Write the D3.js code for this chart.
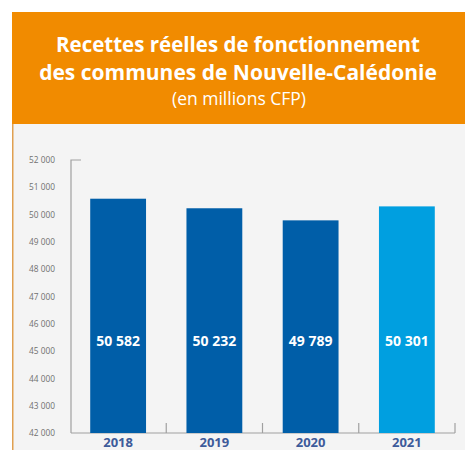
<!DOCTYPE html>
<html>
<head>
<meta charset="utf-8">
<script src="https://cdn.jsdelivr.net/npm/d3@7"></script>
<style>
  body { margin: 0; background: #fff; }
  svg { display: block; font-family: "Open Sans", "Noto Sans", sans-serif; }
</style>
</head>
<body>
<div id="chart"></div>
<script>
var years = ['2018', '2019', '2020', '2021'];
var values = [50582, 50232, 49789, 50301];
var labels = ['50 582', '50 232', '49 789', '50 301'];
var yTicks = [42000, 43000, 44000, 45000, 46000, 47000, 48000, 49000, 50000, 51000, 52000];
var colors = ['#005ea8', '#005ea8', '#005ea8', '#009fe0'];

var w = 465, h = 450;

var svg = d3.select('#chart').append('svg')
  .attr('width', w)
  .attr('height', h);

// panel + header
svg.append('rect').attr('x', 12).attr('y', 124).attr('width', w - 12).attr('height', h - 124).attr('fill', '#f4f4f4');
svg.append('rect').attr('x', 12).attr('y', 124).attr('width', 1.5).attr('height', h - 124).attr('fill', '#e0a050');
svg.append('rect').attr('x', 12).attr('y', 12).attr('width', w - 12).attr('height', 112).attr('fill', '#f18b00');

svg.append('text').attr('x', 238).attr('y', 52).attr('text-anchor', 'middle')
  .attr('fill', '#fff').attr('font-size', 20.5).attr('font-weight', 'bold')
  .text('Recettes réelles de fonctionnement');
svg.append('text').attr('x', 238).attr('y', 80).attr('text-anchor', 'middle')
  .attr('fill', '#fff').attr('font-size', 21).attr('font-weight', 'bold')
  .text('des communes de Nouvelle-Calédonie');
svg.append('text').attr('x', 239).attr('y', 105).attr('text-anchor', 'middle')
  .attr('fill', '#fff').attr('font-size', 17.5)
  .text('(en millions CFP)');

var x = d3.scaleBand().domain(years).range([70, 455]).padding(0);
var y = d3.scaleLinear().domain([42000, 52000]).range([433, 160]);
var barW = x.bandwidth() * 0.58;

// y axis
var yAxis = d3.axisLeft(y).tickValues(yTicks).tickSize(0).tickPadding(16)
  .tickFormat(function(d) { return d3.format(',')(d).replace(',', ' '); });
var gy = svg.append('g').attr('transform', 'translate(71,0)').call(yAxis);
gy.select('.domain').remove();
gy.selectAll('text').attr('fill', '#707070').attr('font-size', 8.3).attr('font-family', '"Open Sans", sans-serif');
svg.append('path').attr('d', 'M81,' + y(52000) + 'H71V' + y(42000))
  .attr('fill', 'none').attr('stroke', '#a0a0a0').attr('stroke-width', 1.2);

// x axis
svg.append('line').attr('x1', 71).attr('x2', 455).attr('y1', y(42000)).attr('y2', y(42000))
  .attr('stroke', '#a0a0a0').attr('stroke-width', 1.2);
svg.selectAll('.xtick').data(years.slice(1).concat(['end']))
  .enter().append('line')
  .attr('x1', function(d, i) { return i < 3 ? x(d) : x.range()[1]; })
  .attr('x2', function(d, i) { return i < 3 ? x(d) : x.range()[1]; })
  .attr('y1', y(42000) - 10).attr('y2', y(42000))
  .attr('stroke', '#a0a0a0').attr('stroke-width', 1.2);

svg.selectAll('.year').data(years).enter().append('text')
  .attr('x', function(d) { return x(d) + x.bandwidth() / 2; })
  .attr('y', 447)
  .attr('text-anchor', 'middle')
  .attr('fill', '#3d5b9a').attr('font-size', 13).attr('font-weight', 'bold')
  .text(function(d) { return d; });

// bars
svg.selectAll('.bar').data(values).enter().append('rect')
  .attr('x', function(d, i) { return x(years[i]) + (x.bandwidth() - barW) / 2; })
  .attr('y', function(d) { return y(d); })
  .attr('width', barW)
  .attr('height', function(d) { return y(42000) - y(d); })
  .attr('fill', function(d, i) { return colors[i]; });

svg.selectAll('.val').data(labels).enter().append('text')
  .attr('x', function(d, i) { return x(years[i]) + x.bandwidth() / 2; })
  .attr('y', 346)
  .attr('text-anchor', 'middle')
  .attr('fill', '#fff').attr('font-size', 14).attr('font-weight', 'bold')
  .text(function(d) { return d; });
</script>
</body>
</html>
